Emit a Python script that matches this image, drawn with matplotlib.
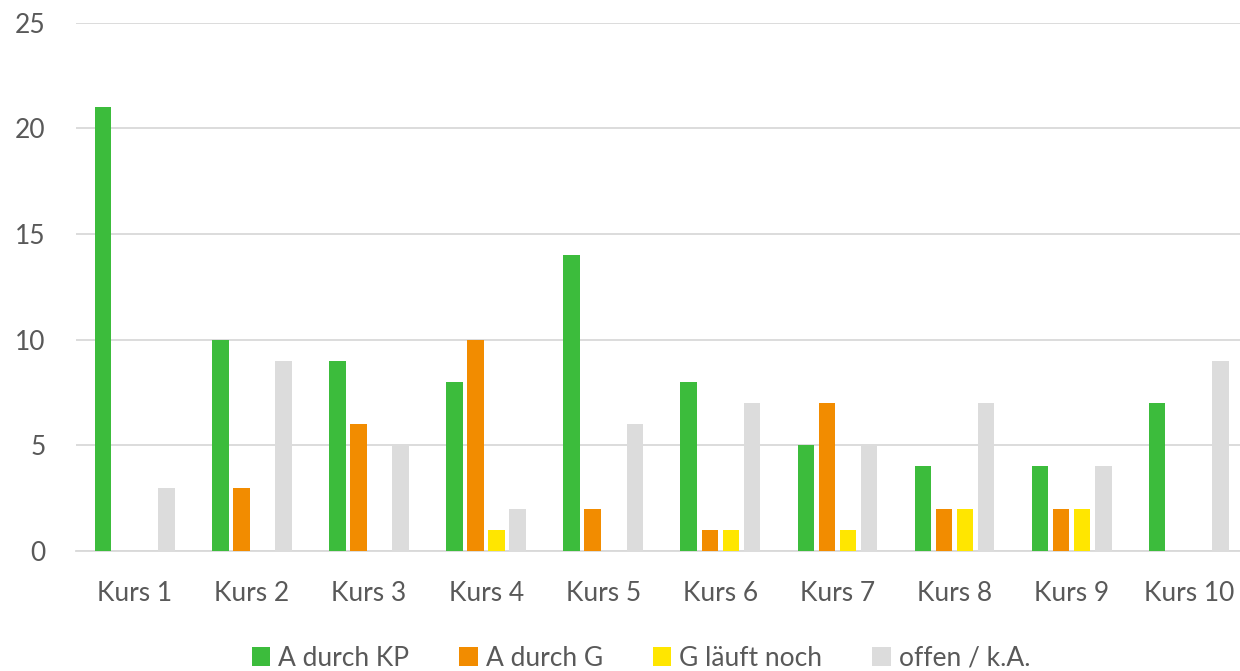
import matplotlib.pyplot as plt
import numpy as np

plt.rcParams['font.family'] = ['Lato', 'DejaVu Sans']

kurse = ["Kurs 1", "Kurs 2", "Kurs 3", "Kurs 4", "Kurs 5",
         "Kurs 6", "Kurs 7", "Kurs 8", "Kurs 9", "Kurs 10"]
a_kp = [21, 10, 9, 8, 14, 8, 5, 4, 4, 7]
a_g = [0, 3, 6, 10, 2, 1, 7, 2, 2, 0]
g_laeuft = [0, 0, 0, 1, 0, 1, 1, 2, 2, 0]
offen = [3, 9, 5, 2, 6, 7, 5, 7, 4, 9]

series = [("A durch KP", a_kp, "#3cbc3c"),
          ("A durch G", a_g, "#f28c00"),
          ("G läuft noch", g_laeuft, "#ffe600"),
          ("offen / k.A.", offen, "#dcdcdc")]

fig = plt.figure(figsize=(12.4, 6.71), dpi=100)
ax = fig.add_axes([0.0615, 0.179, 0.9444, 0.787])

x = np.arange(len(kurse))
w = 0.141
step = 0.18
for i, (name, vals, col) in enumerate(series):
    ax.bar(x + (i - 1.5) * step, vals, w, color=col, label=name, zorder=3)

ax.set_xlim(-0.5, len(kurse) - 0.5)
ax.set_ylim(0, 25)
ax.set_yticks(range(0, 26, 5))
ax.set_xticks(x)
ax.set_xticklabels(kurse)
ax.yaxis.grid(True, color="#d9d9d9", linewidth=1.3, zorder=0)
for s in ["top", "right", "left"]:
    ax.spines[s].set_visible(False)
ax.spines["bottom"].set_color("#d9d9d9")
ax.spines["bottom"].set_linewidth(1.3)
ax.tick_params(axis="both", length=0, labelsize=19, colors="#595959")
ax.tick_params(axis="y", pad=22)
ax.tick_params(axis="x", pad=22)

leg = fig.legend(loc="lower center", ncol=4, frameon=False, fontsize=19,
                 bbox_to_anchor=(0.517, -0.035), handlelength=0.7, handleheight=0.7,
                 handletextpad=0.3, columnspacing=1.9)
for t in leg.get_texts():
    t.set_color("#595959")

fig.savefig("out.png", dpi=100)
